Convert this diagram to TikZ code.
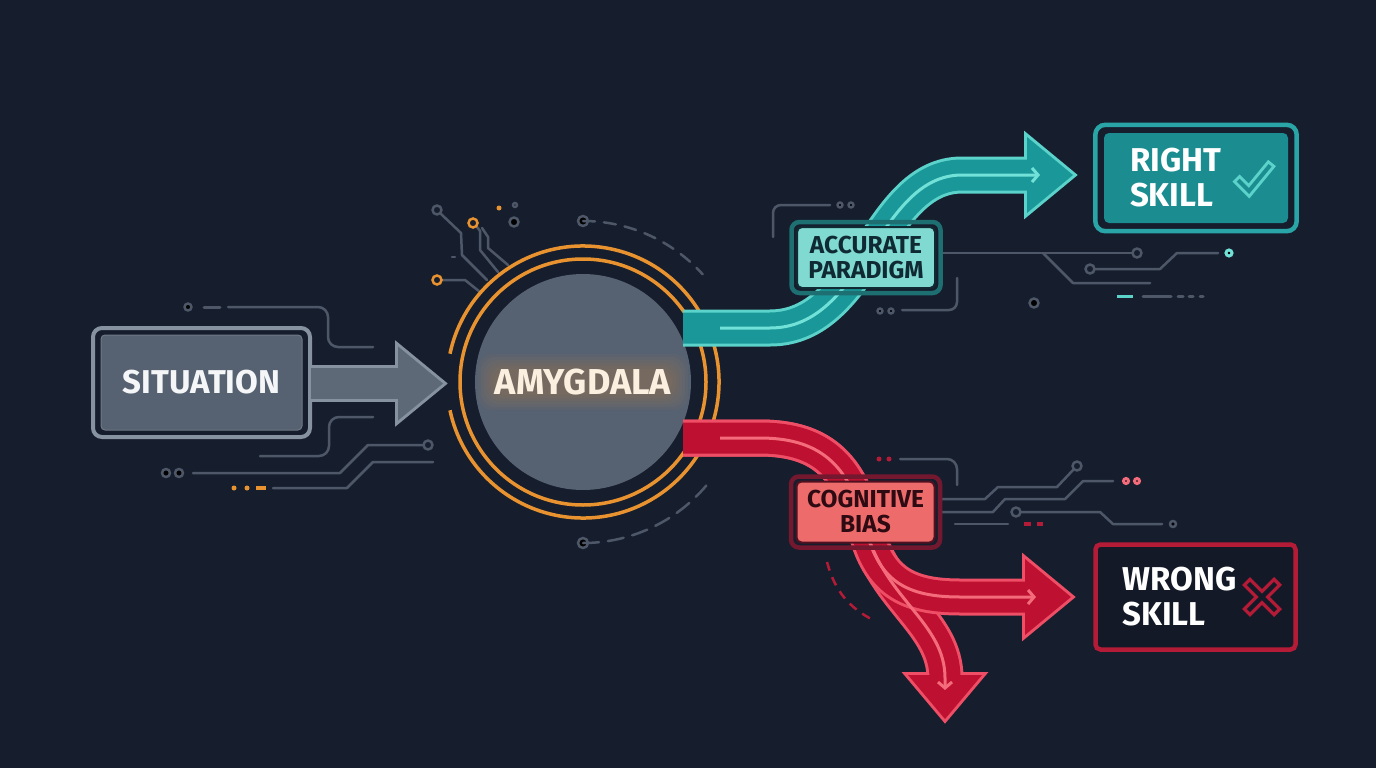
\documentclass[tikz,border=0pt]{standalone}
\usepackage{fontspec}
\setmainfont{Fira Sans}
\usetikzlibrary{arrows.meta, calc}
\definecolor{bgnavy}{HTML}{161E2D}
\definecolor{wire}{HTML}{4D5767}
\definecolor{slatefill}{HTML}{566171}
\definecolor{slateedge}{HTML}{8792A0}
\definecolor{ringorange}{HTML}{E8932F}
\definecolor{tealband}{HTML}{1A9899}
\definecolor{tealedge}{HTML}{5CD3CA}
\definecolor{tealcore}{HTML}{72E2D8}
\definecolor{tealbox}{HTML}{1B8D91}
\definecolor{tealframe}{HTML}{2AA5A7}
\definecolor{tealpale}{HTML}{80DAD1}
\definecolor{tealdeep}{HTML}{1E6F72}
\definecolor{redband}{HTML}{BE1030}
\definecolor{rededge}{HTML}{EE4E66}
\definecolor{redcore}{HTML}{F46C7C}
\definecolor{redpale}{HTML}{EE6B6B}
\definecolor{reddeep}{HTML}{74182F}
\definecolor{redframe}{HTML}{B41B37}
\definecolor{inkdark}{HTML}{0F2A33}

\begin{document}
\begin{tikzpicture}[x=1pt, y=-1pt,
  wire/.style={draw=wire, line width=2.5pt, line cap=round, line join=round},
  bigfont/.style={font=\fontsize{33}{35}\selectfont\bfseries},
  tagfont/.style={font=\fontsize{24.5}{25}\selectfont\bfseries},
  sitbox/.style={fill=slatefill, draw=slatefill!85!white, line width=1pt, rounded corners=4pt,
    minimum width=201pt, minimum height=95pt, text=white!94!slatefill, bigfont},
  glowtext/.style={text=white!85!ringorange, font=\fontsize{36}{38}\selectfont\bfseries},
  tagbox/.style={line width=2pt, rounded corners=5pt, minimum width=138pt, minimum height=61pt,
    inner sep=0pt, align=center, tagfont},
  skillbox/.style={rounded corners=5pt, minimum height=90pt, align=left, bigfont, text=white},
  tealcore/.style={draw=tealcore, line width=3pt, -{Straight Barb[length=6pt,width=14pt]}},
  redcore/.style={draw=redcore, line width=3pt, -{Straight Barb[length=6pt,width=14pt]}}
]
\useasboundingbox (0,0) rectangle (1376,768);
\fill[bgnavy] (0,0) rectangle (1376,768);

% wires left of the situation box
\fill[wire] (188,307) circle (3.5);
\draw[wire, line width=3pt] (204,307) -- (220,307);
\draw[wire, rounded corners=10pt] (228,307) -- (328,307) -- (328,347) -- (373,347);
\draw[wire, rounded corners=10pt] (373,417) -- (329,417) -- (329,456) -- (260,456);
\draw[wire] (423.5,445) -- (368,445) -- (340,473) -- (193,473);
\draw[wire, fill=bgnavy] (428,445) circle (4.5);
\foreach \x in {166,179} \fill[wire] (\x,473) circle (4);
\draw[wire] (433,462) -- (373,462) -- (347,488) -- (273,488);
\foreach \x in {234,247} \fill[ringorange] (\x,488) circle (2.5);
\draw[ringorange, line width=4pt] (256,488) -- (266,488);

% wires above left of the amygdala
\draw[wire] (440.5,213.5) -- (461,233) -- (462,255) -- (487,280);
\draw[wire, fill=bgnavy] (437,210) circle (4.5);
\draw[wire] (477,227) -- (480,231) -- (480,250) -- (498,272);
\draw[wire] (482,228) -- (488,237) -- (488,248) -- (508,265);
\draw[ringorange, line width=2.5pt, fill=bgnavy] (473,223) circle (4.5);
\fill[ringorange] (499,208) circle (2.5);
\fill[wire] (515,205) circle (2);
\fill[wire] (514,222) circle (4.5);
\draw[wire] (442,280) -- (465,280) -- (480,292);
\draw[ringorange, line width=2.5pt, fill=bgnavy] (437,280) circle (4.5);
\draw[wire] (452,257) -- (455,257);

% wires round the paradigm box
\draw[wire, rounded corners=8pt] (773,237) -- (773,205) -- (830,205);
\foreach \x in {840,851} \fill[wire] (\x,205) circle (2.5);
\draw[wire, rounded corners=8pt] (957,278) -- (957,310) -- (902,310);
\foreach \x in {880,891} \fill[wire] (\x,311) circle (2.5);
\draw[wire] (942,253) -- (1132.5,253);
\draw[wire, fill=bgnavy] (1137,253) circle (4.5);
\draw[wire] (1043,253) -- (1073,283) -- (1150,283);
\draw[wire] (1094.5,269) -- (1160,269) -- (1177,253) -- (1218,253);
\draw[wire, fill=bgnavy] (1090,269) circle (4.5);
\fill[tealcore] (1229,253) circle (3);
\fill[wire] (1034,303) circle (4.5);
\draw[tealedge, line width=3pt] (1117,296) -- (1133,296);
\foreach \a/\b in {1143/1171, 1178/1183, 1189/1193, 1200/1203}
  \draw[wire, line width=3pt] (\a,296) -- (\b,296);

% wires round the bias box
\foreach \x in {879,889} \fill[redframe] (\x,459) circle (2.5);
\draw[wire, rounded corners=10pt] (900,459) -- (957,459) -- (957,485);
\draw[wire] (940,499) -- (985,499) -- (998,487) -- (1057,487) -- (1073.5,469.5);
\draw[wire, fill=bgnavy] (1077,466) circle (4.5);
\draw[wire] (940,512) -- (993,512) -- (1005,499) -- (1065,499) -- (1083,481) -- (1113,481);
\foreach \x in {1126,1137} \fill[redcore] (\x,481) circle (2.5);
\draw[wire] (1020.5,512) -- (1100,512) -- (1113,524) -- (1162,524);
\draw[wire, fill=bgnavy] (1016,512) circle (4.5);
\fill[wire] (1173,524) circle (3);
\draw[wire] (955,524) -- (1008,524);
\foreach \a/\b in {1024/1031, 1037/1043}
  \draw[redframe, line width=3.5pt] (\a,524) -- (\b,524);
\draw[redframe, line width=2.5pt, dash pattern=on 9pt off 7pt] (827,562) .. controls (835,592) and (850,608) .. (873,620);

% dashed orbits of the amygdala
\node[circle, fill=slatefill, minimum size=216pt] (amyg) at (583,382) {};
\fill[wire] (583,221) circle (5);
\draw[wire, dash pattern=on 12pt off 9pt] (583,221) arc[start angle=-90, end angle=-42, radius=161];
\fill[wire] (583,543) circle (5);
\draw[wire, dash pattern=on 16pt off 9pt] (583,543) arc[start angle=90, end angle=40, radius=161];

% rings
\draw[ringorange, line width=3.5pt] (amyg.center) circle (123);
\draw[ringorange, line width=3.5pt] (amyg.center) ++(192:136) arc[start angle=192, end angle=528, radius=136];

% glowing label
\foreach \d in {0,3,...,15}
  \fill[ringorange, opacity=.045, rounded corners=14pt]
    ($(amyg.center)+(-90-\d,-13-\d)$) rectangle ($(amyg.center)+(90+\d,13+\d)$);
\node[glowtext] (amyglabel) at (amyg.center) {AMYGDALA};

% situation box and arrow
\node[sitbox] (sit) at (201.5,382.5) {SITUATION};
\draw[slateedge, line width=4pt, rounded corners=9pt]
  ($(sit.north west)+(-7.5,-6.5)$) rectangle ($(sit.south east)+(7.5,6.5)$);
\coordinate (sitout) at (311,383.5);
\coordinate (sittip) at (443,383.5);
\draw[slateedge, line width=37pt] (sitout) -- ($(sittip)+(-42,0)$);
\filldraw[draw=slateedge, fill=slateedge, line width=6pt, line join=miter]
  ($(sittip)+(-45,-37)$) -- (sittip) -- ($(sittip)+(-45,37)$) -- cycle;
\draw[draw=slatefill!95!white, line width=31pt] (sitout) -- ($(sittip)+(-42,0)$);
\fill[slatefill!95!white] ($(sittip)+(-45,-37)$) -- (sittip) -- ($(sittip)+(-45,37)$) -- cycle;

% teal branch
\coordinate (t0) at (683,328);
\coordinate (t1) at (770,328);
\coordinate (t2) at (962,175);
\coordinate (t3) at (1030,175);
\coordinate (ttip) at (1073,175);
\draw[draw=tealedge, line width=37pt] (t0) -- (t1) .. controls +(95,0) and +(-85,0) .. (t2) -- (t3);
\filldraw[draw=tealedge, fill=tealedge, line width=6pt, line join=miter]
  ($(ttip)+(-46,-38)$) -- (ttip) -- ($(ttip)+(-46,38)$) -- cycle;
\draw[draw=tealband, line width=31pt] (t0) -- (t1) .. controls +(95,0) and +(-85,0) .. (t2) -- (t3);
\fill[tealband] ($(ttip)+(-46,-38)$) -- (ttip) -- ($(ttip)+(-46,38)$) -- cycle;
\draw[tealcore] (720,328) -- (t1) .. controls +(95,0) and +(-85,0) .. (t2) -- (1040,175);

% red branches
\coordinate (r0) at (683,438);
\coordinate (r1) at (760,438);
\coordinate (r2) at (866,530);
\coordinate (r3) at (960,597);
\coordinate (r4) at (1028,597);
\coordinate (r5) at (945,678);
\coordinate (rtip) at (1071,597);
\coordinate (dtip) at (945,719);
% down branch
\draw[draw=rededge, line width=37pt] (r0) -- (r1) .. controls +(65,0) and +(-15,-60) .. (r2)
  .. controls +(20,70) and +(0,-55) .. (r5);
\filldraw[draw=rededge, fill=rededge, line width=6pt, line join=miter]
  ($(dtip)+(-37,-44)$) -- (dtip) -- ($(dtip)+(37,-44)$) -- cycle;
\draw[draw=redband, line width=31pt] (r0) -- (r1) .. controls +(65,0) and +(-15,-60) .. (r2)
  .. controls +(20,70) and +(0,-55) .. (r5);
\fill[redband] ($(dtip)+(-37,-44)$) -- (dtip) -- ($(dtip)+(37,-44)$) -- cycle;
% right branch
\draw[draw=rededge, line width=37pt] (r0) -- (r1) .. controls +(65,0) and +(-15,-60) .. (r2)
  .. controls +(13,50) and +(-55,0) .. (r3) -- (r4);
\filldraw[draw=rededge, fill=rededge, line width=6pt, line join=miter]
  ($(rtip)+(-46,-38)$) -- (rtip) -- ($(rtip)+(-46,38)$) -- cycle;
\draw[draw=redband, line width=31pt] (r0) -- (r1) .. controls +(65,0) and +(-15,-60) .. (r2)
  .. controls +(13,50) and +(-55,0) .. (r3) -- (r4);
\fill[redband] ($(rtip)+(-46,-38)$) -- (rtip) -- ($(rtip)+(-46,38)$) -- cycle;
\draw[redcore] (r2) .. controls +(20,70) and +(0,-55) .. (r5) -- (945,690);
\draw[redcore] (720,438) -- (r1) .. controls +(65,0) and +(-15,-60) .. (r2)
  .. controls +(13,50) and +(-55,0) .. (r3) -- (1036,597);

% paradigm and bias tags
\node[tagbox, fill=tealpale, draw=inkdark, text=inkdark] (acc) at (866,257.5) {ACCURATE\\PARADIGM};
\draw[tealdeep, line width=4.5pt, rounded corners=8pt]
  ($(acc.north west)+(-4.5,-4)$) rectangle ($(acc.south east)+(4.5,4)$);
\node[tagbox, fill=redpale, draw=reddeep!70!black, text=reddeep!40!black] (cog) at (865.5,512) {COGNITIVE\\BIAS};
\draw[reddeep, line width=4.5pt, rounded corners=8pt]
  ($(cog.north west)+(-4.5,-4)$) rectangle ($(cog.south east)+(4.5,4)$);

% outcomes
\node[skillbox, fill=tealbox, minimum width=184pt, inner xsep=26pt, text width=132pt] (rskill) at (1196,178) {RIGHT\\SKILL};
\draw[tealframe, line width=4.5pt, rounded corners=10pt]
  ($(rskill.north west)+(-8.5,-8)$) rectangle ($(rskill.south east)+(8.5,8)$);
\draw[tealedge, line width=10pt, line join=miter]
  ($(rskill.center)+(40,0)$) -- ($(rskill.center)+(53,13)$) -- ($(rskill.center)+(76,-15)$);
\draw[tealbox, line width=4pt, line join=miter, shorten <=3pt, shorten >=3pt]
  ($(rskill.center)+(40,0)$) -- ($(rskill.center)+(53,13)$) -- ($(rskill.center)+(76,-15)$);

\node[skillbox, draw=redframe, line width=4.5pt, fill=bgnavy!85!black, minimum width=200pt,
  minimum height=105pt, inner xsep=27pt, text width=146pt] (wskill) at (1195.5,597) {WRONG\\SKILL};
\foreach \s in {1,-1}
  \draw[redframe, line width=11pt] ($(wskill.center)+(50.5,-16*\s)$) -- ($(wskill.center)+(82.5,16*\s)$);
\foreach \s in {1,-1}
  \draw[bgnavy!85!black, line width=4.5pt, shorten <=3.5pt, shorten >=3.5pt]
    ($(wskill.center)+(50.5,-16*\s)$) -- ($(wskill.center)+(82.5,16*\s)$);
\end{tikzpicture}
\end{document}
